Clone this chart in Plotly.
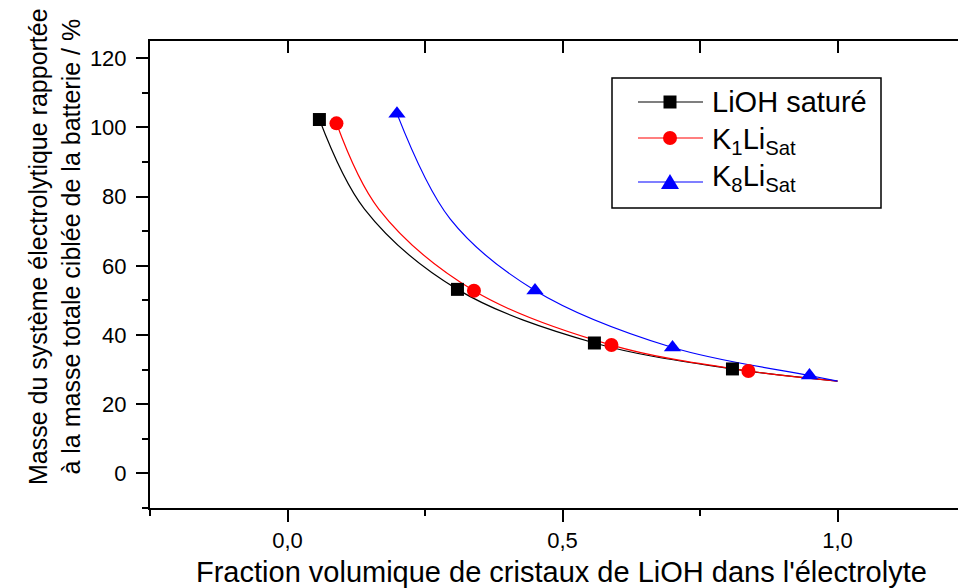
import plotly.graph_objects as go

# ---- data ----
series_names = ["LiOH saturé",
                "K<sub>1</sub>Li<sub>Sat</sub>",
                "K<sub>8</sub>Li<sub>Sat</sub>"]
series_colors = ["#000000", "#ff0000", "#0000ff"]
series_symbols = ["square", "circle", "triangle-up"]

lioh_x = [0.058, 0.309, 0.558, 0.809]
lioh_y = [102.3, 53.2, 37.7, 30.2]
k1_x = [0.089, 0.339, 0.589, 0.838]
k1_y = [101.2, 52.8, 37.1, 29.6]
k8_x = [0.199, 0.450, 0.700, 0.949]
k8_y = [104.0, 52.9, 36.4, 28.3]

# fitted curves
lioh_fit_x = [0.058, 0.140, 0.309, 0.558, 0.809, 1.0]
lioh_fit_y = [102.3, 76.4, 53.2, 37.7, 30.2, 26.7]
k1_fit_x = [0.089, 0.166, 0.339, 0.589, 0.838, 1.0]
k1_fit_y = [101.2, 76.4, 52.8, 37.1, 29.6, 26.7]
k8_fit_x = [0.199, 0.296, 0.450, 0.700, 0.949, 1.0]
k8_fit_y = [104.0, 73.5, 52.9, 36.4, 28.3, 26.7]

x_tickvals = [0.0, 0.5, 1.0]
x_ticktext = ["0,0", "0,5", "1,0"]
y_tickvals = [0, 20, 40, 60, 80, 100, 120]

x_title = "Fraction volumique de cristaux de LiOH dans l'électrolyte"
y_title = "Masse du système électrolytique rapportée<br>à la masse totale ciblée de la batterie / %"

FONT = "Liberation Sans, Arial, sans-serif"

marker_xs = [lioh_x, k1_x, k8_x]
marker_ys = [lioh_y, k1_y, k8_y]
fit_xs = [lioh_fit_x, k1_fit_x, k8_fit_x]
fit_ys = [lioh_fit_y, k1_fit_y, k8_fit_y]
marker_sizes = [13, 14, 15]

fig = go.Figure()
for i in range(3):
    fig.add_trace(go.Scatter(
        x=fit_xs[i], y=fit_ys[i], mode="lines",
        line=dict(color=series_colors[i], width=1.2, shape="spline", smoothing=1.0),
        showlegend=False, hoverinfo="skip"))
for i in range(3):
    fig.add_trace(go.Scatter(
        x=marker_xs[i], y=marker_ys[i], mode="markers", name=series_names[i],
        marker=dict(symbol=series_symbols[i], size=marker_sizes[i], color=series_colors[i],
                    line=dict(width=0)),
        showlegend=False))

# ---- geometry: page pixels (the page body adds an 8px offset) ----
OFF = 8
W, H = 966 - OFF, 588 - OFF
L, T, B = 150 - OFF, 41 - OFF, 80
PW, PH = W - L, H - T - B
X0, X1 = -0.25, 1.2336
Y0, Y1 = -10, 125


def px(xp):
    # xp: pixel position on the page
    return (xp - OFF - L) / PW


def py(yp):
    return (H - B - (yp - OFF)) / PH


axis_common = dict(showgrid=False, zeroline=False, linecolor="black", linewidth=2,
                   tickcolor="black", tickwidth=2, ticklen=12, automargin=False)

fig.update_layout(
    width=W, height=H,
    margin=dict(l=L, r=0, t=T, b=B),
    paper_bgcolor="white", plot_bgcolor="white",
    font=dict(family=FONT, color="black"),
    showlegend=False,
    xaxis=dict(range=[X0, X1], tickvals=x_tickvals, ticktext=x_ticktext,
               ticks="outside", showline=True,
               minor=dict(dtick=0.25, tick0=0, ticks="outside", ticklen=6, tickwidth=2, tickcolor="black"),
               tickfont=dict(family=FONT, size=22),
               **axis_common),
    yaxis=dict(range=[Y0, Y1], tickvals=y_tickvals,
               ticks="outside", showline=True, ticklabelstandoff=5,
               minor=dict(dtick=10, tick0=0, ticks="outside", ticklen=6, tickwidth=2, tickcolor="black"),
               tickfont=dict(family=FONT, size=22),
               **axis_common),
    xaxis2=dict(range=[X0, X1], overlaying="x", side="top", anchor="y",
                tickvals=[-0.25, 0.0, 0.25, 0.5, 0.75, 1.0],
                ticks="inside", showline=True, showticklabels=False,
                **axis_common),
    yaxis2=dict(range=[Y0, Y1], overlaying="y", side="right", anchor="x",
                tickvals=y_tickvals, ticks="inside", ticklen=4, showline=False,
                showticklabels=False, showgrid=False, zeroline=False, automargin=False,
                tickcolor="black", tickwidth=2),
)

# invisible trace so the top/right axes are drawn
fig.add_trace(go.Scatter(x=[X0], y=[Y0], xaxis="x2", yaxis="y2", mode="markers",
                         marker=dict(opacity=0), showlegend=False, hoverinfo="skip"))

# axis titles
fig.add_annotation(text=y_title, textangle=-90, xref="paper", yref="paper",
                   x=px(54), y=py(247), showarrow=False,
                   xanchor="center", yanchor="middle",
                   font=dict(family=FONT, size=25, color="black"))
fig.add_annotation(text=x_title, xref="paper", yref="paper",
                   x=px(561), y=py(572), showarrow=False,
                   xanchor="center", yanchor="middle",
                   font=dict(family=FONT, size=29, color="black"))

# ---- legend box (drawn like the original's) ----
LG_L, LG_T, LG_R, LG_B = 612, 78, 881, 208
fig.add_shape(type="rect", xref="paper", yref="paper",
              x0=px(LG_L), x1=px(LG_R), y0=py(LG_B), y1=py(LG_T),
              line=dict(color="black", width=1.5), fillcolor="white", layer="above")
row_y = [102, 138, 182]
text_y = [102, 141, 178]
for i in range(3):
    yy = row_y[i]
    fig.add_shape(type="line", xref="paper", yref="paper",
                  x0=px(638), x1=px(703), y0=py(yy), y1=py(yy),
                  line=dict(color=series_colors[i], width=1.2), layer="above")
    cx = 670
    if series_symbols[i] == "square":
        h = 6.5
        fig.add_shape(type="rect", xref="paper", yref="paper",
                      x0=px(cx - h), x1=px(cx + h), y0=py(yy + h), y1=py(yy - h),
                      line=dict(width=0), fillcolor=series_colors[i], layer="above")
    elif series_symbols[i] == "circle":
        r = 7
        fig.add_shape(type="circle", xref="paper", yref="paper",
                      x0=px(cx - r), x1=px(cx + r), y0=py(yy + r), y1=py(yy - r),
                      line=dict(width=0), fillcolor=series_colors[i], layer="above")
    else:
        path = "M {:.5f} {:.5f} L {:.5f} {:.5f} L {:.5f} {:.5f} Z".format(
            px(cx), py(yy - 8), px(cx - 9), py(yy + 7), px(cx + 9), py(yy + 7))
        fig.add_shape(type="path", xref="paper", yref="paper", path=path,
                      line=dict(width=0), fillcolor=series_colors[i], layer="above")
    fig.add_annotation(text=series_names[i], xref="paper", yref="paper",
                       x=px(710), y=py(text_y[i]), showarrow=False,
                       xanchor="left", yanchor="middle",
                       font=dict(family=FONT, size=29, color="black"))

fig.write_html("out.html")
